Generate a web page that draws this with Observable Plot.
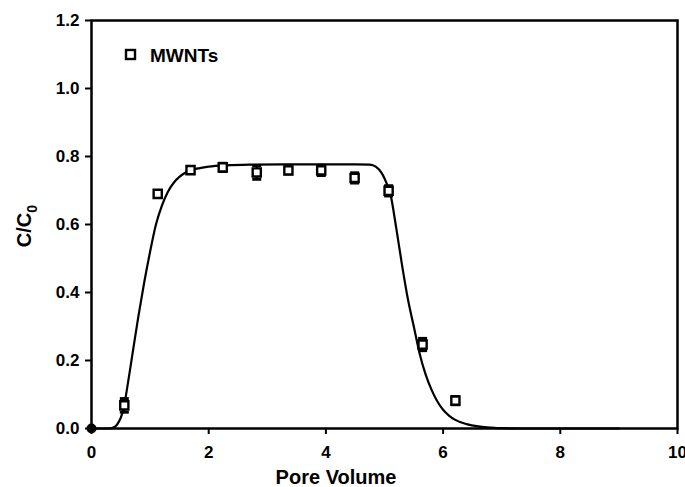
<!DOCTYPE html>
<html>
<head>
<meta charset="utf-8">
<script src="https://cdn.jsdelivr.net/npm/d3@7"></script>
<script src="https://cdn.jsdelivr.net/npm/@observablehq/plot@0.6"></script>
<style>
  html, body { margin: 0; padding: 0; background: #fff; }
  #chart svg { display: block; }
</style>
</head>
<body>
<div id="chart"></div>
<script>
// Observed breakthrough data (MWNTs)
const poreVolume = [0.56, 1.13, 1.69, 2.24, 2.82, 3.36, 3.92, 4.49, 5.07, 5.65, 6.21];
const relConc    = [0.068, 0.690, 0.760, 0.768, 0.753, 0.759, 0.759, 0.737, 0.699, 0.247, 0.082];
const relErr     = [0.020, 0.006, 0.010, 0.012, 0.020, 0.010, 0.015, 0.015, 0.015, 0.018, 0.012];

// Origin point (filled)
const originX = [0];
const originY = [0];

// Model fit curve
const fitX = [0, 0.3, 0.4, 0.45, 0.5, 0.55, 0.6, 0.7, 0.8, 0.9, 1.0, 1.1, 1.2, 1.3, 1.4, 1.5, 1.6, 1.7, 1.85, 2.0, 2.3, 2.7, 3.5, 4.5, 4.75, 4.85, 4.95, 5.05, 5.1, 5.2, 5.3, 5.4, 5.5, 5.6, 5.7, 5.8, 5.9, 6.0, 6.1, 6.2, 6.4, 6.6, 6.8, 7.0, 7.5, 9.0];
const fitY = [0, 0, 0.005, 0.015, 0.032, 0.06, 0.11, 0.22, 0.33, 0.43, 0.52, 0.60, 0.655, 0.695, 0.722, 0.740, 0.752, 0.760, 0.766, 0.770, 0.774, 0.776, 0.777, 0.777, 0.776, 0.770, 0.752, 0.715, 0.690, 0.590, 0.480, 0.380, 0.300, 0.220, 0.160, 0.115, 0.080, 0.055, 0.038, 0.026, 0.013, 0.006, 0.003, 0.001, 0, 0];

// Axis ticks
const xTicks = [0, 2, 4, 6, 8, 10];
const yTicks = [0, 0.2, 0.4, 0.6, 0.8, 1.0, 1.2];

const obs = poreVolume.map((x, i) => ({x, y: relConc[i], lo: relConc[i] - relErr[i], hi: relConc[i] + relErr[i]}));
const origin = originX.map((x, i) => ({x, y: originY[i]}));
const fit = fitX.map((x, i) => ({x, y: fitY[i]}));

const capSymbol = { draw(ctx, size) { const w = 4.5; ctx.moveTo(-w, 0); ctx.lineTo(w, 0); } };

const font = "'Liberation Sans', Arial, Helvetica, sans-serif";

const chart = Plot.plot({
  width: 685,
  height: 487,
  marginLeft: 91,
  marginRight: 8,
  marginTop: 20,
  marginBottom: 59,
  style: { fontFamily: font, fontSize: "17px", fontWeight: "bold", color: "#000", background: "#fff" },
  x: { domain: [0, 10], label: null },
  y: { domain: [0, 1.2], label: null },
  marks: [
    Plot.axisX({ ticks: xTicks, tickSize: 6, tickPadding: 11, strokeWidth: 2, label: null, tickFormat: d3.format("d") }),
    Plot.axisY({ ticks: yTicks, tickSize: 6, tickPadding: 6, strokeWidth: 2, label: null, tickFormat: d3.format(".1f") }),
    Plot.frame({ stroke: "#000", strokeWidth: 2.5 }),
    Plot.line(fit, { x: "x", y: "y", stroke: "#000", strokeWidth: 2.2, curve: "monotone-x" }),
    Plot.ruleX(obs, { x: "x", y1: "lo", y2: "hi", stroke: "#000", strokeWidth: 2 }),
    Plot.dot(obs, { x: "x", y: "lo", symbol: capSymbol, r: 4, stroke: "#000", strokeWidth: 3, fill: "none" }),
    Plot.dot(obs, { x: "x", y: "hi", symbol: capSymbol, r: 4, stroke: "#000", strokeWidth: 3, fill: "none" }),
    Plot.dot(obs, { x: "x", y: "y", symbol: "square", r: 4.6, stroke: "#000", strokeWidth: 2.4, fill: "#fff" }),
    Plot.dot(origin, { x: "x", y: "y", r: 5, fill: "#000", stroke: "none" })
  ]
});

document.getElementById("chart").appendChild(chart);

const svg = d3.select(chart);

// Y axis title C/C0
const yl = svg.append("text")
  .attr("transform", "translate(31,226) rotate(-90)")
  .attr("text-anchor", "middle")
  .attr("font-family", font)
  .attr("font-weight", "bold")
  .attr("font-size", 20)
  .attr("fill", "#000");
yl.append("tspan").text("C/C");
yl.append("tspan").attr("font-size", 14).attr("dy", 6).text("0");

// X axis title
svg.append("text")
  .attr("x", 336)
  .attr("y", 484)
  .attr("text-anchor", "middle")
  .attr("font-family", font)
  .attr("font-weight", "bold")
  .attr("font-size", 20)
  .attr("fill", "#000")
  .text("Pore Volume");

// Legend
svg.append("rect")
  .attr("x", 126).attr("y", 50).attr("width", 9).attr("height", 9)
  .attr("fill", "#fff").attr("stroke", "#000").attr("stroke-width", 2.4);
svg.append("text")
  .attr("x", 150).attr("y", 62)
  .attr("text-anchor", "start")
  .attr("font-family", font)
  .attr("font-weight", "bold")
  .attr("font-size", 19)
  .attr("fill", "#000")
  .text("MWNTs");
</script>
</body>
</html>
